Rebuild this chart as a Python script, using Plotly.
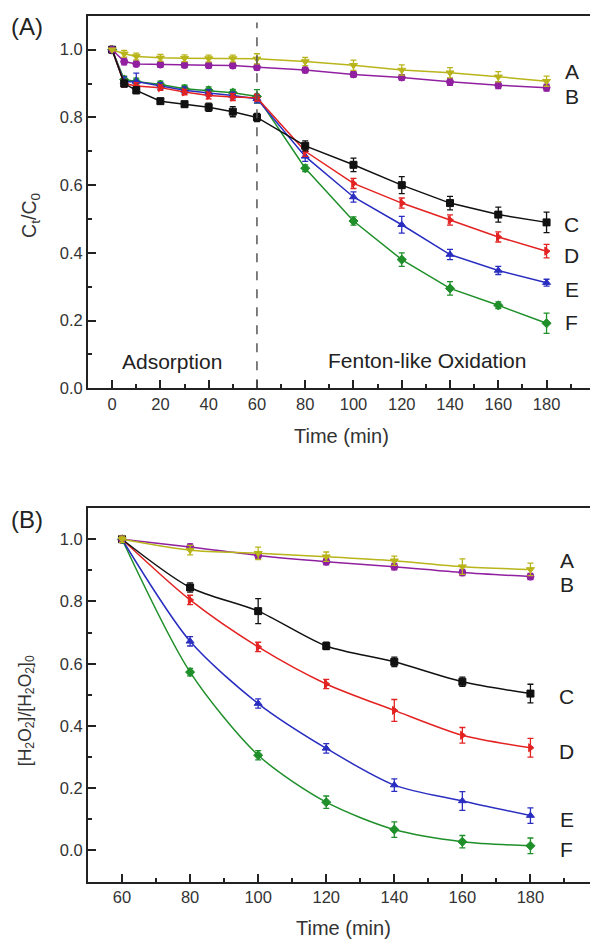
import plotly.graph_objects as go

# ---------------- data ----------------
series_names = ["A", "B", "C", "D", "E", "F"]
colors = ["#b8b41a", "#9020a0", "#111111", "#e32322", "#2a2ec0", "#1f8f2a"]
symbols = ["triangle-down", "circle", "square", "triangle-right", "triangle-up", "diamond"]

# Panel (A): Ct/C0 vs time
time_a = [0, 5, 10, 20, 30, 40, 50, 60, 80, 100, 120, 140, 160, 180]
a_A = [1.0, 0.988, 0.980, 0.976, 0.975, 0.974, 0.974, 0.973, 0.965, 0.954, 0.940, 0.932, 0.920, 0.907]
a_B = [1.0, 0.965, 0.958, 0.956, 0.955, 0.954, 0.953, 0.948, 0.940, 0.927, 0.918, 0.905, 0.895, 0.888]
a_C = [1.0, 0.900, 0.880, 0.848, 0.839, 0.830, 0.817, 0.800, 0.716, 0.660, 0.600, 0.547, 0.513, 0.490]
a_D = [1.0, 0.900, 0.893, 0.888, 0.875, 0.865, 0.860, 0.858, 0.700, 0.605, 0.547, 0.497, 0.447, 0.405]
a_E = [1.0, 0.905, 0.906, 0.893, 0.880, 0.872, 0.865, 0.855, 0.685, 0.565, 0.483, 0.395, 0.348, 0.312]
a_F = [1.0, 0.912, 0.906, 0.897, 0.885, 0.880, 0.873, 0.862, 0.650, 0.494, 0.380, 0.295, 0.245, 0.192]
ea_A = [0, 0.010, 0.010, 0.010, 0.010, 0.010, 0.010, 0.015, 0.012, 0.015, 0.015, 0.015, 0.015, 0.015]
ea_B = [0, 0.010, 0.008, 0.008, 0.008, 0.008, 0.008, 0.008, 0.008, 0.008, 0.008, 0.010, 0.010, 0.010]
ea_C = [0, 0.010, 0.010, 0.008, 0.008, 0.012, 0.015, 0.012, 0.015, 0.020, 0.025, 0.020, 0.022, 0.030]
ea_D = [0, 0.010, 0.010, 0.008, 0.008, 0.010, 0.010, 0.010, 0.015, 0.015, 0.015, 0.015, 0.015, 0.020]
ea_E = [0, 0.015, 0.025, 0.010, 0.010, 0.010, 0.010, 0.012, 0.015, 0.015, 0.025, 0.015, 0.012, 0.010]
ea_F = [0, 0.010, 0.010, 0.010, 0.010, 0.010, 0.010, 0.020, 0.010, 0.012, 0.020, 0.020, 0.010, 0.030]

# Panel (B): [H2O2]/[H2O2]0 vs time
time_b = [60, 80, 100, 120, 140, 160, 180]
b_A = [1.0, 0.965, 0.955, 0.944, 0.931, 0.912, 0.903]
b_B = [1.0, 0.975, 0.948, 0.928, 0.912, 0.893, 0.880]
b_C = [1.0, 0.845, 0.769, 0.657, 0.606, 0.542, 0.504]
b_D = [1.0, 0.805, 0.654, 0.535, 0.450, 0.370, 0.330]
b_E = [1.0, 0.672, 0.472, 0.328, 0.210, 0.159, 0.112]
b_F = [1.0, 0.573, 0.306, 0.155, 0.067, 0.028, 0.015]
eb_A = [0.01, 0.015, 0.020, 0.015, 0.015, 0.025, 0.020]
eb_B = [0.01, 0.010, 0.010, 0.010, 0.010, 0.010, 0.010]
eb_C = [0.01, 0.015, 0.040, 0.012, 0.015, 0.015, 0.030]
eb_D = [0.01, 0.015, 0.015, 0.015, 0.035, 0.025, 0.030]
eb_E = [0.01, 0.015, 0.015, 0.015, 0.020, 0.030, 0.025]
eb_F = [0.01, 0.012, 0.015, 0.020, 0.025, 0.020, 0.025]

ticks_a_x = [0, 20, 40, 60, 80, 100, 120, 140, 160, 180]
ticks_b_x = [60, 80, 100, 120, 140, 160, 180]
ticks_y = [0.0, 0.2, 0.4, 0.6, 0.8, 1.0]

label_pos_a = [0.935, 0.862, 0.483, 0.392, 0.292, 0.193]
label_pos_b = [0.932, 0.855, 0.494, 0.319, 0.099, 0.003]

# ---------------- figure ----------------
W, H = 590, 948
fig = go.Figure()

vals_a = [a_A, a_B, a_C, a_D, a_E, a_F]
errs_a = [ea_A, ea_B, ea_C, ea_D, ea_E, ea_F]
vals_b = [b_A, b_B, b_C, b_D, b_E, b_F]
errs_b = [eb_A, eb_B, eb_C, eb_D, eb_E, eb_F]

for i in [5, 4, 3, 2, 1, 0]:
    fig.add_trace(go.Scatter(
        x=time_a, y=vals_a[i], mode="lines+markers", xaxis="x", yaxis="y",
        line=dict(color=colors[i], width=1.5),
        marker=dict(symbol=symbols[i], size=7, color=colors[i],
                    line=dict(color=colors[i], width=1)),
        error_y=dict(type="data", array=errs_a[i], color=colors[i], thickness=1.3, width=3),
        showlegend=False))
    fig.add_trace(go.Scatter(
        x=time_b, y=vals_b[i], mode="lines+markers", xaxis="x2", yaxis="y2",
        line=dict(color=colors[i], width=1.5, shape="spline", smoothing=0.8),
        marker=dict(symbol=symbols[i], size=7, color=colors[i],
                    line=dict(color=colors[i], width=1)),
        error_y=dict(type="data", array=errs_b[i], color=colors[i], thickness=1.3, width=3),
        showlegend=False))

FONT = "Liberation Sans, Arial"
axis_common = dict(
    showline=True, linecolor="#222", linewidth=2, ticks="inside", ticklen=8,
    tickwidth=1.5, tickcolor="#222", showgrid=False, zeroline=False,
    tickfont=dict(family=FONT, size=16.5, color="#333"),
)

x_left = 88 / W
fig.update_layout(
    width=W, height=H, margin=dict(l=0, r=0, t=0, b=0),
    paper_bgcolor="white", plot_bgcolor="white",
    xaxis=dict(domain=[x_left, 1.0], range=[-10, 198], anchor="y",
               tickvals=ticks_a_x, mirror=True,
               minor=dict(dtick=10, tick0=0, ticks="inside", ticklen=4, tickcolor="#222"),
               **axis_common),
    yaxis=dict(domain=[1 - 392 / H, 1 - 16 / H], range=[0, 1.1], anchor="x",
               tickvals=ticks_y, tickformat=".1f",
               minor=dict(dtick=0.1, tick0=0, ticks="inside", ticklen=4, tickcolor="#222"),
               **axis_common),
    xaxis2=dict(domain=[x_left, 1.0], range=[50, 197.5], anchor="y2",
                tickvals=ticks_b_x, mirror=True,
                minor=dict(dtick=10, tick0=0, ticks="inside", ticklen=4, tickcolor="#222"),
                **axis_common),
    yaxis2=dict(domain=[1 - 890 / H, 1 - 513 / H], range=[-0.1, 1.1], anchor="x2",
                tickvals=ticks_y, tickformat=".1f",
                minor=dict(dtick=0.1, tick0=0, ticks="inside", ticklen=4, tickcolor="#222"),
                **axis_common),
)

fig.add_shape(type="line", xref="x", yref="y", x0=60, x1=60, y0=0, y1=1.08,
              line=dict(color="#555", width=1.5, dash="dash"))

font_txt = dict(family=FONT, size=21, color="#222")
font_lab = dict(family=FONT, size=20, color="#333")
C = dict(xanchor="center", yanchor="middle", showarrow=False)
ann = []
for i, name in enumerate(series_names):
    ann.append(dict(x=190.4, y=label_pos_a[i], xref="x", yref="y", text=name, font=font_txt, **C))
    ann.append(dict(x=190.6, y=label_pos_b[i], xref="x2", yref="y2", text=name, font=font_txt, **C))
ann += [
    dict(x=25, y=0.08, xref="x", yref="y", text="Adsorption", font=font_txt, **C),
    dict(x=130.5, y=0.082, xref="x", yref="y", text="Fenton-like Oxidation", font=font_txt, **C),
    dict(x=341 / W, y=1 - 440 / H, xref="paper", yref="paper", text="Time (min)", font=font_lab, **C),
    dict(x=343 / W, y=1 - 937 / H, xref="paper", yref="paper", text="Time (min)", font=font_lab, **C),
    dict(x=31 / W, y=1 - 218 / H, xref="paper", yref="paper",
         text="C<sub>t</sub>/C<sub>0</sub>", textangle=-90,
         font=dict(family=FONT, size=19.5, color="#333"), **C),
    dict(x=26 / W, y=1 - 718 / H, xref="paper", yref="paper",
         text="[H<sub>2</sub>O<sub>2</sub>]/[H<sub>2</sub>O<sub>2</sub>]<sub>0</sub>", textangle=-90,
         font=dict(family=FONT, size=17.5, color="#333"), **C),
    dict(x=27 / W, y=1 - 27 / H, xref="paper", yref="paper", text="(A)",
         font=dict(family=FONT, size=24, color="#222"), **C),
    dict(x=27 / W, y=1 - 524 / H, xref="paper", yref="paper", text="(B)",
         font=dict(family=FONT, size=24, color="#222"), **C),
]
fig.update_layout(annotations=ann)

fig.write_html("out.html")
